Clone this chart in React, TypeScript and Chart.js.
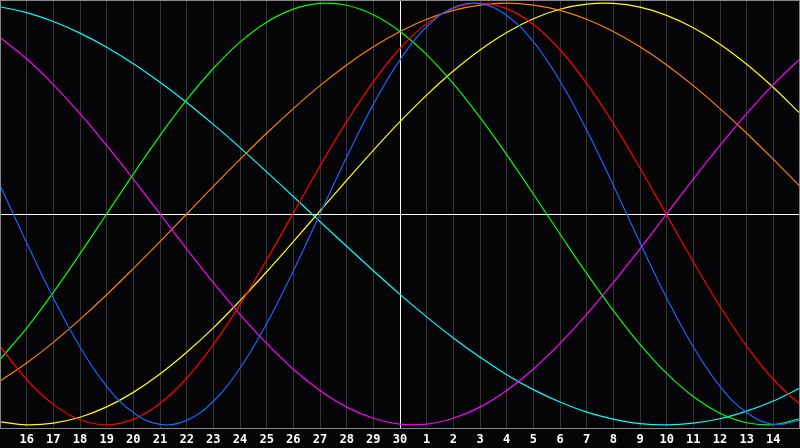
import React, { useEffect, useRef } from "react";
import { Chart, registerables } from "chart.js";

Chart.register(...registerables);

const dayLabels = [
  "15", "16", "17", "18", "19", "20", "21", "22", "23", "24", "25", "26", "27", "28", "29", "30",
  "1", "2", "3", "4", "5", "6", "7", "8", "9", "10", "11", "12", "13", "14", "15",
];

const physical = [
  0.136, -0.136, -0.398, -0.631, -0.817, -0.942, -0.998, -0.979, -0.888, -0.731, -0.52, -0.27, 0,
  0.27, 0.52, 0.731, 0.888, 0.979, 0.998, 0.942, 0.817, 0.631, 0.398, 0.136, -0.136, -0.398,
  -0.631, -0.817, -0.942, -0.998, -0.979,
];
const emotional = [
  -0.627, -0.785, -0.903, -0.976, -1.0, -0.974, -0.899, -0.779, -0.62, -0.43, -0.218, 0.004,
  0.227, 0.438, 0.627, 0.785, 0.903, 0.976, 1.0, 0.974, 0.899, 0.779, 0.62, 0.43, 0.218, -0.004,
  -0.227, -0.438, -0.627, -0.785, -0.903,
];
const intellectual = [
  -0.69, -0.541, -0.372, -0.189, 0, 0.189, 0.372, 0.541, 0.69, 0.815, 0.91, 0.972, 0.999, 0.99,
  0.945, 0.866, 0.756, 0.618, 0.458, 0.282, 0.095, -0.095, -0.282, -0.458, -0.618, -0.756,
  -0.866, -0.945, -0.99, -0.999, -0.972,
];
const intuitive = [
  0.837, 0.736, 0.614, 0.476, 0.325, 0.165, 0, -0.165, -0.325, -0.476, -0.614, -0.736, -0.837,
  -0.916, -0.969, -0.997, -0.997, -0.969, -0.916, -0.837, -0.736, -0.614, -0.476, -0.325,
  -0.165, 0, 0.165, 0.325, 0.476, 0.614, 0.736,
];
const awareness = [
  -0.793, -0.707, -0.609, -0.5, -0.383, -0.259, -0.131, 0, 0.131, 0.259, 0.383, 0.5, 0.609,
  0.707, 0.793, 0.866, 0.924, 0.966, 0.991, 1.0, 0.991, 0.966, 0.924, 0.866, 0.793, 0.707,
  0.609, 0.5, 0.383, 0.259, 0.131,
];
const aesthetic = [
  -0.986, -1.0, -0.992, -0.964, -0.915, -0.846, -0.759, -0.656, -0.54, -0.411, -0.274, -0.131,
  0.015, 0.16, 0.302, 0.438, 0.564, 0.678, 0.778, 0.861, 0.926, 0.971, 0.995, 0.999, 0.981,
  0.942, 0.883, 0.805, 0.71, 0.6, 0.477,
];
const spiritual = [
  0.983, 0.955, 0.913, 0.858, 0.791, 0.713, 0.625, 0.529, 0.425, 0.315, 0.2, 0.083, -0.036,
  -0.153, -0.269, -0.381, -0.488, -0.588, -0.679, -0.762, -0.833, -0.892, -0.94, -0.973,
  -0.994, -1.0, -0.992, -0.971, -0.935, -0.887, -0.826,
];

const seriesNames = ["Physical", "Emotional", "Intellectual", "Intuitive", "Awareness", "Aesthetic", "Spiritual"];
const seriesColors = ["#1466ff", "#ff0000", "#00ff00", "#ff00ff", "#ff8000", "#ffff00", "#00ffff"];
const seriesData = [physical, emotional, intellectual, intuitive, awareness, aesthetic, spiritual];
const todayIndex = 15;

const framePlugin = {
  id: "frame",
  beforeDraw(chart: any) {
    const { ctx, width, height } = chart;
    ctx.save();
    ctx.fillStyle = "#050508";
    ctx.fillRect(0, 0, width, height);
    ctx.restore();
  },
  afterDraw(chart: any) {
    const { ctx, chartArea } = chart;
    ctx.save();
    ctx.strokeStyle = "#888888";
    ctx.lineWidth = 1;
    ctx.strokeRect(
      chartArea.left + 0.5,
      chartArea.top + 0.5,
      chartArea.right - chartArea.left - 1,
      chartArea.bottom - chartArea.top
    );
    ctx.restore();
  },
};

export default function App() {
  const canvasRef = useRef<HTMLCanvasElement | null>(null);

  useEffect(() => {
    document.body.style.margin = "0";
    document.body.style.background = "#050508";
    if (!canvasRef.current) return;
    const chart = new Chart(canvasRef.current, {
      type: "line",
      data: {
        labels: dayLabels,
        datasets: seriesData.map((d, i) => ({
          label: seriesNames[i],
          data: d,
          borderColor: seriesColors[i],
          backgroundColor: seriesColors[i],
          borderWidth: 1.2,
          pointRadius: 0,
          tension: 0.4,
          fill: false,
        })),
      },
      options: {
        animation: false,
        responsive: true,
        maintainAspectRatio: false,
        devicePixelRatio: 1,
        layout: { padding: 0 },
        plugins: { legend: { display: false }, tooltip: { enabled: false } },
        scales: {
          x: {
            offset: false,
            border: { display: false },
            grid: {
              drawTicks: false,
              color: (ctx: any) => (ctx.index === todayIndex ? "#ffffff" : "#333333"),
              lineWidth: 1,
            },
            ticks: {
              autoSkip: false,
              maxRotation: 0,
              padding: 5,
              color: "#ffffff",
              font: { family: "'DejaVu Sans Mono'", size: 12, weight: "bold" },
              callback: (_v: any, i: number) => (i === 0 || i === dayLabels.length - 1 ? "" : dayLabels[i]),
            },
            afterFit: (scale: any) => {
              scale.height = 20;
              scale.paddingLeft = 0;
              scale.paddingRight = 0;
            },
          },
          y: {
            min: -1.015,
            max: 1.015,
            border: { display: false },
            grid: { drawTicks: false, color: "#ffffff", lineWidth: 1 },
            ticks: { display: false },
            afterBuildTicks: (scale: any) => {
              scale.ticks = [{ value: 0 }];
            },
            afterFit: (scale: any) => {
              scale.width = 0;
              scale.paddingTop = 0;
              scale.paddingBottom = 0;
            },
          },
        },
      },
      plugins: [framePlugin],
    });
    return () => chart.destroy();
  }, []);

  return (
    <div style={{ width: 800, height: 448, background: "#050508" }}>
      <canvas ref={canvasRef} />
    </div>
  );
}
